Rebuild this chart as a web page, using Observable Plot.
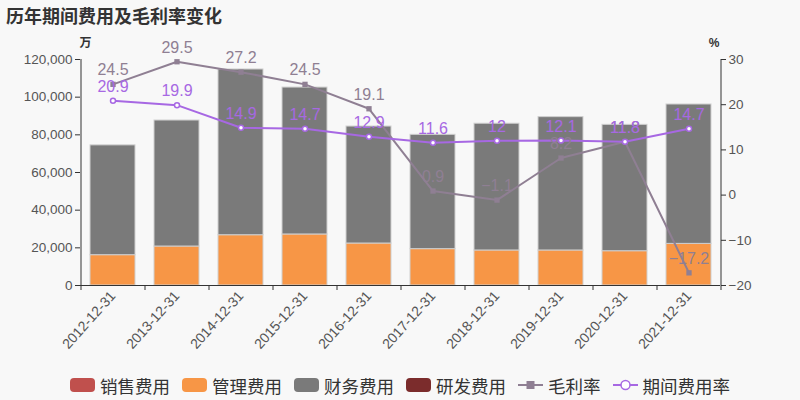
<!DOCTYPE html>
<html>
<head>
<meta charset="utf-8">
<script src="https://cdn.jsdelivr.net/npm/d3@7"></script>
<script src="https://cdn.jsdelivr.net/npm/@observablehq/plot@0.6"></script>
<style>
  html, body { margin: 0; padding: 0; background: #f8f8f8; }
  #wrap { width: 800px; height: 400px; position: relative; overflow: hidden; background: #f8f8f8;
    font-family: "Liberation Sans", "Noto Sans CJK SC", sans-serif; }
  #title { height: 28px; line-height: 30px; padding-left: 6px; font-size: 18px; font-weight: bold; color: #333;
    font-family: "Noto Sans CJK SC", sans-serif; }
  #chart { height: 342px; }
  #legend { height: 30px; display: flex; justify-content: center; align-items: center; gap: 12px;
    font-family: "Noto Sans CJK SC", sans-serif; font-size: 17.5px; color: #333; }
  .item { display: flex; align-items: center; gap: 5px; }
  .sw { width: 25px; height: 14px; border-radius: 4px; }
</style>
</head>
<body>
<div id="wrap">
  <div id="title">历年期间费用及毛利率变化</div>
  <div id="chart"></div>
  <div id="legend"></div>
</div>
<script>
const years = ["2012-12-31","2013-12-31","2014-12-31","2015-12-31","2016-12-31","2017-12-31","2018-12-31","2019-12-31","2020-12-31","2021-12-31"];
const salesExp   = [0, 0, 0, 0, 0, 0, 0, 0, 0, 0];
const adminExp   = [16100, 20700, 26700, 27100, 22300, 19300, 18600, 18600, 18200, 22100];
const financeExp = [58300, 66900, 88000, 78000, 62100, 60700, 67300, 70800, 67100, 74000];
const rdExp      = [0, 0, 0, 0, 0, 0, 0, 0, 0, 0];
const grossMargin = [24.5, 29.5, 27.2, 24.5, 19.1, 0.9, -1.1, 8.2, 11.8, -17.2];
const expenseRate = [20.9, 19.9, 14.9, 14.7, 12.9, 11.6, 12, 12.1, 11.8, 14.7];
const leftTicks = [0, 20000, 40000, 60000, 80000, 100000, 120000];
const rightTicks = [-20, -10, 0, 10, 20, 30];
const seriesNames = ["销售费用", "管理费用", "财务费用", "研发费用"];
const seriesColors = ["#c0504d", "#f79646", "#7a7a7a", "#7b2c2c"];
const lineNames = ["毛利率", "期间费用率"];
const lineColors = ["#8f7f93", "#a768e3"];

const seriesValues = [salesExp, adminExp, financeExp, rdExp];
const bars = [];
years.forEach((y, i) => seriesNames.forEach((s, k) => bars.push({year: y, type: s, value: seriesValues[k][i]})));
const pts = years.map((y, i) => ({year: y, gross: grossMargin[i], rate: expenseRate[i]}));

// right axis (%) mapped onto the left axis domain
const rMin = rightTicks[0], rMax = rightTicks[rightTicks.length - 1];
const lMax = leftTicks[leftTicks.length - 1];
const toLeft = p => (p - rMin) / (rMax - rMin) * lMax;
const fromLeft = v => Math.round(v / lMax * (rMax - rMin) + rMin);
const fmtNum = v => (v < 0 ? "\u2212" : "") + Math.abs(v);

const W = 800, H = 342, mL = 80, mR = 80, mT = 31, mB = 85;
const step = (W - mL - mR) / years.length;

const chart = Plot.plot({
  width: W, height: H,
  marginLeft: mL, marginRight: mR, marginTop: mT, marginBottom: mB,
  style: {background: "#f8f8f8", fontFamily: "Liberation Sans, Noto Sans CJK SC, sans-serif", fontSize: "13px", color: "#555"},
  x: {type: "band", domain: years, paddingInner: 0.3, paddingOuter: 0.15, label: null},
  y: {domain: [0, lMax], label: null},
  color: {domain: seriesNames, range: seriesColors},
  marks: [
    Plot.barY(bars.filter(d => d.value > 0), {x: "year", y: "value", fill: "type", stroke: "#cfcfcf", strokeWidth: 1}),
    // axes
    Plot.ruleY([0], {stroke: "#333", strokeWidth: 1}),
    Plot.ruleX([years[0]], {x: d => d, dx: -step / 2, stroke: "#333"}),
    Plot.ruleX([years[years.length - 1]], {x: d => d, dx: step / 2, stroke: "#333"}),
    Plot.ruleX(years, {x: d => d, dx: -step / 2, y1: 0, y2: 0, insetBottom: -5, stroke: "#333"}),
    Plot.ruleX([years[years.length - 1]], {x: d => d, dx: step / 2, y1: 0, y2: 0, insetBottom: -5, stroke: "#333"}),
    Plot.axisX({tickSize: 0, tickPadding: 8, tickRotate: -48, fontSize: 14, fill: "#555", label: null}),
    Plot.axisY({anchor: "left", ticks: leftTicks, tickSize: 5, tickPadding: 3, tickFormat: d3.format(","), fontSize: 13.5, stroke: "#333", fill: "#555", label: null}),
    Plot.axisY({anchor: "right", ticks: rightTicks.map(toLeft), tickSize: 5, tickPadding: 3, tickFormat: v => fmtNum(fromLeft(v)), fontSize: 13.5, stroke: "#333", fill: "#555", label: null}),
    Plot.text(["万"], {frameAnchor: "top-left", dx: -1, dy: -21, fontSize: 12, fontWeight: "bold", fill: "#333"}),
    Plot.text(["%"], {frameAnchor: "top-right", dx: -1, dy: -21, fontSize: 12, fontWeight: "bold", fill: "#333"}),
    // lines
    Plot.line(pts, {x: "year", y: d => toLeft(d.gross), stroke: lineColors[0], strokeWidth: 2}),
    Plot.dot(pts, {x: "year", y: d => toLeft(d.gross), symbol: "square", r: 3, fill: lineColors[0], stroke: "none"}),
    Plot.line(pts, {x: "year", y: d => toLeft(d.rate), stroke: lineColors[1], strokeWidth: 2}),
    Plot.dot(pts, {x: "year", y: d => toLeft(d.rate), r: 2.5, fill: "#fff", stroke: lineColors[1], strokeWidth: 1.5}),
    Plot.text(pts, {x: "year", y: d => toLeft(d.gross), text: d => fmtNum(d.gross), dy: -14, fontSize: 16, fill: lineColors[0]}),
    Plot.text(pts, {x: "year", y: d => toLeft(d.rate), text: d => fmtNum(d.rate), dy: -14, fontSize: 16, fill: lineColors[1]})
  ]
});
document.getElementById("chart").appendChild(chart);

// legend
const legend = document.getElementById("legend");
seriesNames.forEach((n, i) => {
  const it = document.createElement("div"); it.className = "item";
  it.innerHTML = `<div class="sw" style="background:${seriesColors[i]}"></div><span>${n}</span>`;
  legend.appendChild(it);
});
lineNames.forEach((n, i) => {
  const it = document.createElement("div"); it.className = "item";
  const marker = i === 0
    ? `<rect x="8.5" y="3" width="8" height="8" fill="${lineColors[0]}"/>`
    : `<circle cx="12.5" cy="7" r="4.5" fill="#fff" stroke="${lineColors[1]}" stroke-width="1.5"/>`;
  it.innerHTML = `<svg width="25" height="14"><line x1="0" x2="25" y1="7" y2="7" stroke="${lineColors[i]}" stroke-width="2"/>${marker}</svg><span>${n}</span>`;
  legend.appendChild(it);
});
</script>
</body>
</html>
